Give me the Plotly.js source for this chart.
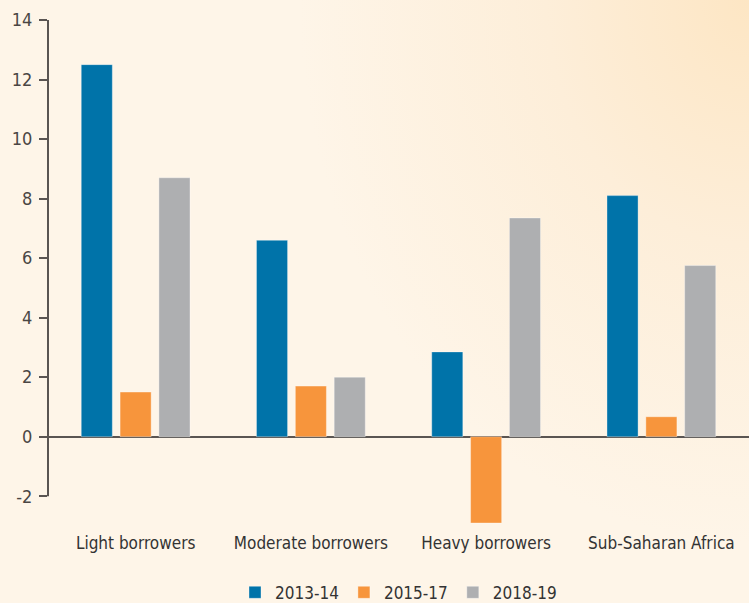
<!DOCTYPE html>
<html>
<head>
<meta charset="utf-8">
<script src="https://cdn.plot.ly/plotly-3.0.1.min.js"></script>
<style>
html,body{margin:0;padding:0;}
body{width:749px;height:603px;overflow:hidden;
background: radial-gradient(ellipse 60% 90% at 100% 0%, #fde6c4 0%, #fdeed9 45%, #fef5e8 100%) #fef5e8;}
#chart{width:749px;height:603px;}
</style>
</head>
<body>
<div id="chart"></div>
<script>
const categories = ["Light borrowers", "Moderate borrowers", "Heavy borrowers", "Sub-Saharan Africa"];
const seriesNames = ["2013-14", "2015-17", "2018-19"];
const v2013 = [12.5, 6.6, 2.85, 8.1];
const v2015 = [1.5, 1.7, -2.9, 0.67];
const v2018 = [8.7, 2.0, 7.35, 5.75];
const yTicks = [-2, 0, 2, 4, 6, 8, 10, 12, 14];

const colors = ["#0073a9", "#f7953c", "#aeafb1"];
const vals = [v2013, v2015, v2018];
const font = "'Liberation Sans Narrow', 'DejaVu Sans Condensed', 'Roboto', sans-serif";
const axisColor = "#5a5552";

const data = seriesNames.map((n, i) => ({
  type: "bar", name: n, x: categories, y: vals[i],
  marker: {color: colors[i], line: {color: "rgba(255,255,255,0.35)", width: 1}},
  hoverinfo: "none"
}));

const layout = {
  width: 749, height: 603,
  margin: {l: 48, r: 0, t: 20, b: 76.6},
  paper_bgcolor: "rgba(0,0,0,0)", plot_bgcolor: "rgba(0,0,0,0)",
  barmode: "group", bargap: 0.335, bargroupgap: 0.2,
  font: {family: font, color: "#333333", size: 17},
  showlegend: true,
  legend: {orientation: "h", x: 0.5, xanchor: "center", yref: "container", y: 0.017, yanchor: "middle",
    font: {size: 17, family: font, color: "#333333"}, traceorder: "normal",
    itemwidth: 30, bgcolor: "rgba(0,0,0,0)"},
  xaxis: {type: "category", range: [-0.5, 3.5], showline: false, showgrid: false, zeroline: false, automargin: false,
    ticks: "", tickfont: {size: 17, family: font, color: "#333333"}, ticklabelstandoff: 5, fixedrange: true},
  yaxis: {range: [-3, 14], tickvals: yTicks, ticktext: yTicks.map(String), showgrid: false, automargin: false,
    showline: false, ticks: "outside", ticklen: 8, tickwidth: 2,
    tickcolor: axisColor, zeroline: true, zerolinecolor: axisColor, zerolinewidth: 2,
    tickfont: {size: 18, family: font, color: "#4a4644"}, ticklabelstandoff: 3, fixedrange: true},
  shapes: [{type: "line", xref: "paper", x0: 0, x1: 0, yref: "y", y0: yTicks[0], y1: yTicks[yTicks.length - 1],
    line: {color: axisColor, width: 2}}]
};

Plotly.newPlot("chart", data, layout, {displayModeBar: false, staticPlot: true});
</script>
</body>
</html>
